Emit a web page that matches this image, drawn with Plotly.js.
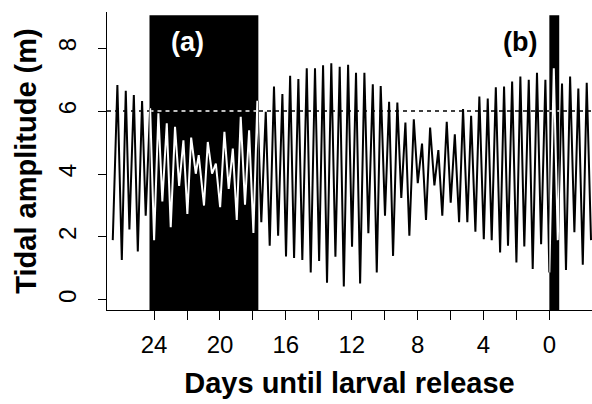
<!DOCTYPE html>
<html>
<head>
<meta charset="utf-8">
<script src="https://cdn.plot.ly/plotly-3.0.1.min.js"></script>
<style>
html,body{margin:0;padding:0;background:#fff;}
#chart{width:592px;height:404px;}
</style>
</head>
<body>
<div id="chart"></div>
<script>
// Days until larval release at each tidal extreme (high / low water)
const days = [26.51,26.23,25.96,25.72,25.50,25.23,24.99,24.73,24.51,24.24,
  24.00,23.74,23.50,23.23,22.99,22.73,22.48,22.22,21.98,21.75,
  21.47,21.29,20.97,20.74,20.48,20.25,19.99,19.73,19.47,19.22,
  18.98,18.74,18.48,18.23,17.97,17.73,17.49,17.22,16.98,16.72,
  16.47,16.21,15.99,15.74,15.50,15.24,15.00,14.73,14.49,14.23,
  13.98,13.74,13.50,13.24,12.99,12.73,12.48,12.22,11.98,11.74,
  11.49,11.23,10.99,10.72,10.48,10.24,9.98,9.73,9.49,9.23,
  8.99,8.74,8.50,8.23,7.99,7.73,7.49,7.24,6.98,6.74,
  6.50,6.23,5.99,5.74,5.48,5.24,4.98,4.75,4.49,4.25,
  3.98,3.74,3.50,3.25,2.99,2.75,2.51,2.26,2.00,1.76,
  1.52,1.25,1.01,0.75,0.50,0.24,0.00,-0.27,-0.51,-0.77,
  -1.01,-1.26,-1.52,-1.76,-2.03,-2.27,-2.53];
// Tidal amplitude (m)
const amplitude = [1.90,6.83,1.27,6.65,2.24,6.51,1.54,6.32,2.68,6.09,
  1.90,5.93,3.13,5.61,2.31,5.50,3.62,5.07,2.73,5.16,
  4.01,4.60,3.00,5.02,4.01,4.33,2.95,5.34,3.53,4.81,
  2.54,5.82,3.03,5.39,2.13,6.33,2.47,5.98,1.72,6.78,
  2.04,6.54,1.38,7.12,1.33,7.02,1.27,7.36,0.87,7.36,
  1.24,7.46,0.55,7.52,1.37,7.41,0.43,7.47,1.69,7.22,
  0.52,7.22,2.12,6.85,0.87,6.80,2.68,6.30,1.40,6.27,
  3.24,5.64,2.04,5.74,3.71,4.97,2.54,5.48,3.64,4.76,
  2.68,5.66,3.09,5.26,2.47,6.07,2.47,5.85,2.17,6.46,
  1.93,6.40,1.90,6.76,1.51,6.78,1.72,6.94,1.19,7.10,
  1.70,7.00,0.98,7.22,1.77,7.00,0.87,7.36,1.90,6.88,
  0.95,7.10,2.15,6.72,1.12,6.90,1.90];

// Shaded windows (a) and (b), in days until release
const windowLabels = ['(a)','(b)'];
const windowStart = [24.28, 0.00];
const windowEnd = [17.67, -0.60];
const windowTop = 9.05;

// Reference amplitude threshold
const threshold = 6;

// Axis ticks
const xTickVals = [24,22,20,18,16,14,12,10,8,6,4,2,0];
const xTickText = ['24','','20','','16','','12','','8','','4','','0'];
const yTickVals = [0,2,4,6,8];

// ---- layout ----
const xRange = [26.86, -2.59];
const yRange = [-0.32, 9.15];
const FONT = 'Liberation Sans, Arial, Helvetica, sans-serif';
const frac = d => (xRange[0] - d) / (xRange[0] - xRange[1]);

const traces = [{
  x: days, y: amplitude, type: 'scatter', mode: 'lines',
  line: {color: '#000', width: 2}, hoverinfo: 'skip', showlegend: false,
  xaxis: 'x', yaxis: 'y'
}];

const layout = {
  width: 592, height: 404,
  margin: {l: 107, r: 0, t: 12, b: 94},
  paper_bgcolor: '#fff', plot_bgcolor: 'rgba(0,0,0,0)',
  showlegend: false,
  font: {family: FONT, color: '#000'},
  xaxis: {
    range: xRange, autorange: false,
    tickmode: 'array', tickvals: xTickVals, ticktext: xTickText,
    ticks: 'outside', ticklen: 9, tickwidth: 1, tickcolor: '#000',
    ticklabelstandoff: 4,
    showline: true, linecolor: '#000', linewidth: 1,
    showgrid: false, zeroline: false,
    tickfont: {family: FONT, size: 24, color: '#000'},
    title: {text: '<b>Days until larval release</b>', font: {family: FONT, size: 29, color: '#000'}, standoff: 15},
    automargin: false
  },
  yaxis: {
    range: yRange, autorange: false,
    tickmode: 'array', tickvals: yTickVals,
    tickangle: -90,
    ticks: 'outside', ticklen: 8, tickwidth: 1, tickcolor: '#000',
    ticklabelstandoff: 12,
    showline: true, linecolor: '#000', linewidth: 1,
    showgrid: false, zeroline: false,
    tickfont: {family: FONT, size: 24, color: '#000'},
    title: {text: '<b>Tidal amplitude (m)</b>', font: {family: FONT, size: 29, color: '#000'}, standoff: 9},
    automargin: false
  },
  shapes: [],
  annotations: []
};

// black dashed threshold line across the plot
layout.shapes.push({
  type: 'line', xref: 'paper', x0: 0, x1: 1, yref: 'y', y0: threshold, y1: threshold,
  line: {color: '#000', width: 1.5, dash: '4px,4px'}, layer: 'below'
});

windowStart.forEach((s, i) => {
  const e = windowEnd[i];
  layout.shapes.push({
    type: 'rect', xref: 'x', yref: 'y', x0: s, x1: e, y0: yRange[0], y1: windowTop,
    fillcolor: '#000', line: {width: 0}, layer: 'below'
  });
  layout.shapes.push({
    type: 'line', xref: 'x', yref: 'y', x0: s, x1: e, y0: threshold, y1: threshold,
    line: {color: '#fff', width: 1.5, dash: '4px,4px'}, layer: 'below'
  });
  // a hidden x-axis whose domain is exactly this window, to clip a white copy of the tide line
  const axName = 'xaxis' + (i + 2);
  layout[axName] = {
    range: [s, e], autorange: false,
    domain: [frac(s), frac(e)],
    anchor: 'y', visible: false, showgrid: false, zeroline: false
  };
  traces.push({
    x: days, y: amplitude, type: 'scatter', mode: 'lines',
    line: {color: '#fff', width: 2}, hoverinfo: 'skip', showlegend: false,
    xaxis: 'x' + (i + 2), yaxis: 'y'
  });
});

layout.annotations.push({
  x: 22.0, y: 8.2, xref: 'x', yref: 'y', text: '<b>' + windowLabels[0] + '</b>',
  showarrow: false, font: {family: FONT, size: 27, color: '#fff'}
});
layout.annotations.push({
  x: 1.78, y: 8.2, xref: 'x', yref: 'y', text: '<b>' + windowLabels[1] + '</b>',
  showarrow: false, font: {family: FONT, size: 27, color: '#000'}
});

Plotly.newPlot('chart', traces, layout, {displayModeBar: false, staticPlot: true});
</script>
</body>
</html>
